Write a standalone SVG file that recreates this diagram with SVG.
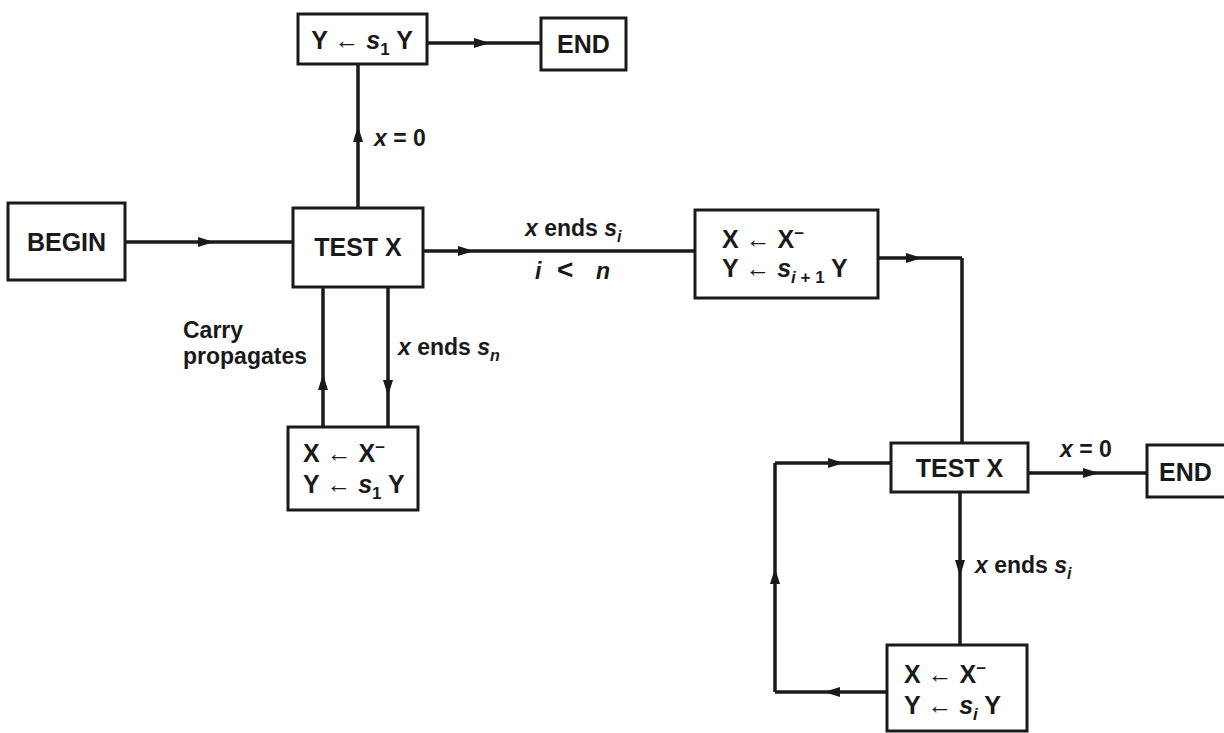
<svg xmlns="http://www.w3.org/2000/svg" width="1224" height="733" viewBox="0 0 1224 733">
<style>
.box{fill:#fff;stroke:#1a1a1a;stroke-width:3}
.t{font-family:"Liberation Sans",Arial,sans-serif;font-weight:bold;font-size:25px;fill:#1a1a1a}
.l{font-family:"Liberation Sans",Arial,sans-serif;font-weight:bold;font-size:23px;fill:#1a1a1a}
.c{stroke:#1a1a1a;stroke-width:3.5;fill:none}
.a{marker-mid:url(#ah)}
.i{font-style:italic}
</style>
<defs>
<marker id="ah" viewBox="0 0 16 12" refX="14" refY="6" markerWidth="16" markerHeight="12" markerUnits="userSpaceOnUse" orient="auto">
<path d="M0,1 L16,6 L0,11 Z" fill="#1a1a1a"/>
</marker>
</defs>
<rect width="1224" height="733" fill="#fff"/>
<g id="connectors">
<path class="c a" d="M125,242 L212,242 L293,242"/>
<path class="c a" d="M358,208 L358,128 L358,64"/>
<path class="c a" d="M427,43 L488,43 L541,43"/>
<path class="c a" d="M423,251 L472,251 L695,251"/>
<path class="c a" d="M878,258 L920,258 L962,258"/>
<path class="c" d="M962,258 L962,443"/>
<path class="c a" d="M388,287 L388,394 L388,427"/>
<path class="c a" d="M323,427 L323,376 L323,287"/>
<path class="c a" d="M1028,473 L1097,473 L1147,473"/>
<path class="c a" d="M960,492 L960,574 L960,645"/>
<path class="c a" d="M887,692 L826,692 L775,692"/>
<path class="c a" d="M775,692 L775,570 L775,463"/>
<path class="c a" d="M775,463 L842,463 L891,463"/>
</g>
<g id="n_shift_top">
<rect class="box" x="298" y="14" width="129" height="50"/>
<text class="t" x="362" y="49" text-anchor="middle">Y ← <tspan class="i">s</tspan><tspan font-size="17" dy="6">1</tspan><tspan dy="-6"> Y</tspan></text>
</g>
<g id="n_end1">
<rect class="box" x="541" y="18" width="85" height="52"/>
<text class="t" x="583.5" y="53" text-anchor="middle">END</text>
</g>
<g id="n_begin">
<rect class="box" x="8" y="203" width="117" height="77"/>
<text class="t" x="66.5" y="251" text-anchor="middle">BEGIN</text>
</g>
<g id="n_test1">
<rect class="box" x="293" y="208" width="130" height="79"/>
<text class="t" x="358" y="256" text-anchor="middle">TEST X</text>
</g>
<g id="n_box2">
<rect class="box" x="695" y="210" width="183" height="88"/>
<text class="t" x="722" y="248">X ← X<tspan font-size="17" dy="-9">−</tspan></text>
<text class="t" x="722" y="277">Y ← <tspan class="i">s</tspan><tspan font-size="17" dy="6"><tspan class="i">i</tspan> + 1</tspan><tspan dy="-6"> Y</tspan></text>
</g>
<g id="n_box3">
<rect class="box" x="288" y="427" width="130" height="83"/>
<text class="t" x="303" y="462">X ← X<tspan font-size="17" dy="-9">−</tspan></text>
<text class="t" x="303" y="493">Y ← <tspan class="i">s</tspan><tspan font-size="17" dy="6">1</tspan><tspan dy="-6"> Y</tspan></text>
</g>
<g id="n_test2">
<rect class="box" x="891" y="443" width="137" height="49"/>
<text class="t" x="959.5" y="477" text-anchor="middle">TEST X</text>
</g>
<g id="n_end2">
<rect class="box" x="1147" y="445" width="90" height="52"/>
<text class="t" x="1159" y="481">END</text>
</g>
<g id="n_box4">
<rect class="box" x="887" y="645" width="140" height="86"/>
<text class="t" x="904" y="683">X ← X<tspan font-size="17" dy="-9">−</tspan></text>
<text class="t" x="904" y="714">Y ← <tspan class="i">s</tspan><tspan class="i" font-size="17" dy="6">i</tspan><tspan dy="-6"> Y</tspan></text>
</g>
<g id="labels">
<text class="l" x="374" y="146"><tspan class="i">x</tspan> = 0</text>
<text class="l" x="525" y="236"><tspan class="i">x</tspan> ends <tspan class="i">s</tspan><tspan class="i" font-size="16" dy="6">i</tspan></text>
<text class="l" y="279"><tspan class="i" x="535">i</tspan><tspan x="557" font-size="28">&lt;</tspan><tspan class="i" x="596">n</tspan></text>
<text class="l" x="183" y="338">Carry</text>
<text class="l" x="183" y="364">propagates</text>
<text class="l" x="398" y="355"><tspan class="i">x</tspan> ends <tspan class="i">s</tspan><tspan class="i" font-size="16" dy="6">n</tspan></text>
<text class="l" x="1060" y="457"><tspan class="i">x</tspan> = 0</text>
<text class="l" x="975" y="573"><tspan class="i">x</tspan> ends <tspan class="i">s</tspan><tspan class="i" font-size="16" dy="6">i</tspan></text>
</g>
</svg>
